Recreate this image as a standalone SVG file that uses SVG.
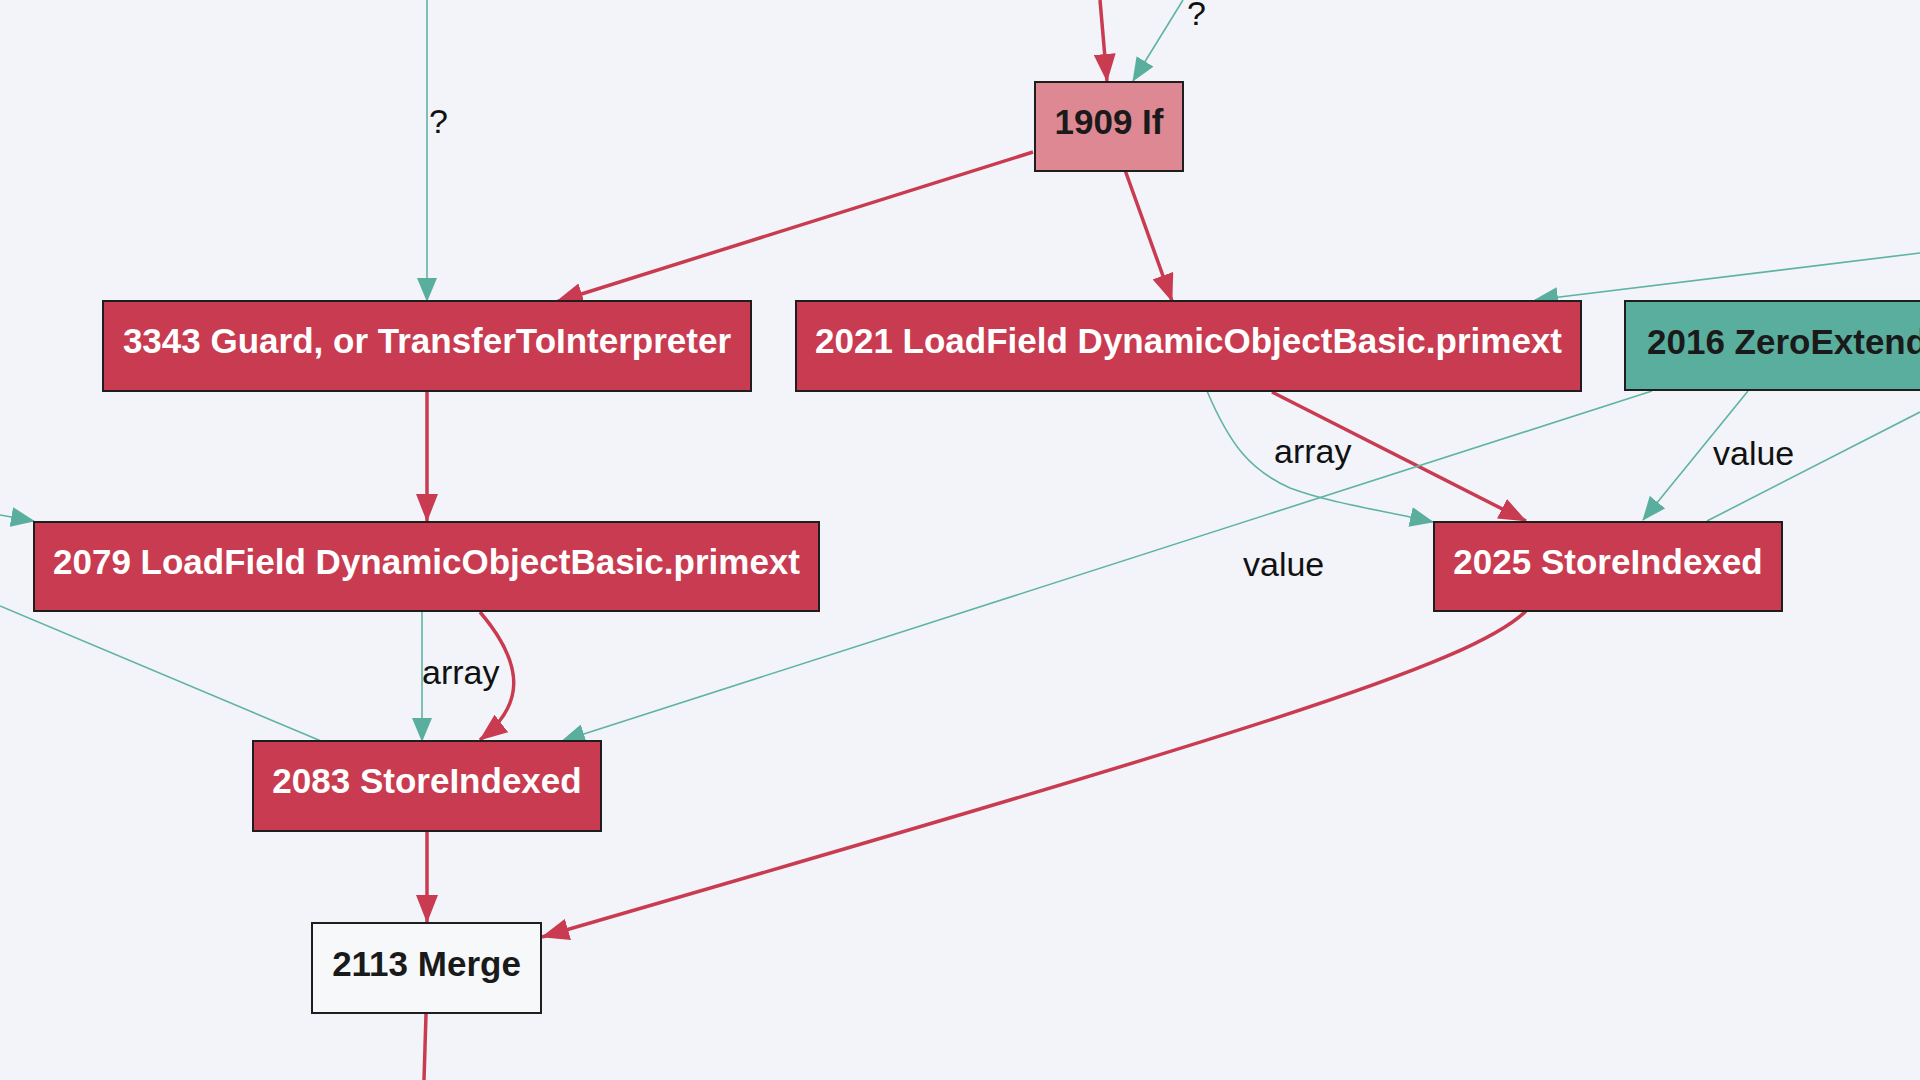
<svg xmlns="http://www.w3.org/2000/svg" width="1920" height="1080" viewBox="0 0 1920 1080">
  <style>
    .bg { fill: #f2f4f9; }
    .node rect { stroke: #1e1e1e; stroke-width: 2; }
    .ctl rect { fill: #c93b50; }
    .ctl text { fill: #ffffff; }
    .branch rect { fill: #dd8892; }
    .data rect { fill: #5aae9e; }
    .plain rect { fill: #f7f8fa; }
    .node text { font-family: "Liberation Sans", Arial, sans-serif; font-weight: bold; font-size: 35px; fill: #1a1a1a; }
    .ctl text { fill: #ffffff; }
    .e-ctl { fill: none; stroke: #c93b50; stroke-width: 3.5; }
    .e-dat { fill: none; stroke: #5fb3a3; stroke-width: 1.6; }
    .lbl { font-family: "Liberation Sans", Arial, sans-serif; font-size: 34px; fill: #111111; }
  </style>
  <defs>
    <marker id="arrow-ctl" viewBox="0 0 28 22" refX="27" refY="11" markerWidth="28" markerHeight="22" markerUnits="userSpaceOnUse" orient="auto">
      <path d="M0,0 L28,11 L0,22 z" fill="#c93b50"/>
    </marker>
    <marker id="arrow-dat" viewBox="0 0 24 20" refX="23" refY="10" markerWidth="24" markerHeight="20" markerUnits="userSpaceOnUse" orient="auto">
      <path d="M0,0 L24,10 L0,20 z" fill="#5aae9e"/>
    </marker>
  </defs>

  <rect class="bg" x="0" y="0" width="1920" height="1080"/>

  <!-- edges -->
  <g id="edges">
    <!-- control flow -->
    <path class="e-ctl" d="M1100,0 L1107,81" marker-end="url(#arrow-ctl)"/>
    <path class="e-ctl" d="M1033,152 L556,302" marker-end="url(#arrow-ctl)"/>
    <path class="e-ctl" d="M1125,170 L1172,301" marker-end="url(#arrow-ctl)"/>
    <path class="e-ctl" d="M427,392 L427,521" marker-end="url(#arrow-ctl)"/>
    <path class="e-ctl" d="M1272,392 L1526,521" marker-end="url(#arrow-ctl)"/>
    <path class="e-ctl" d="M480,612 C525,665 525,705 480,740" marker-end="url(#arrow-ctl)"/>
    <path class="e-ctl" d="M427,832 L427,922" marker-end="url(#arrow-ctl)"/>
    <path class="e-ctl" d="M1526,611 C1470,665 1242,734 542,937" marker-end="url(#arrow-ctl)"/>
    <path class="e-ctl" d="M426,1014 L424,1080"/>

    <!-- data flow -->
    <path class="e-dat" d="M1183,0 L1133,81" marker-end="url(#arrow-dat)"/>
    <path class="e-dat" d="M427,0 L427,301" marker-end="url(#arrow-dat)"/>
    <path class="e-dat" d="M1920,253 L1535,300" marker-end="url(#arrow-dat)"/>
    <path class="e-dat" d="M0,515 L34,521" marker-end="url(#arrow-dat)"/>
    <path class="e-dat" d="M1207,391 C1230,445 1250,470 1290,488 C1330,503 1380,510 1433,522" marker-end="url(#arrow-dat)"/>
    <path class="e-dat" d="M1748,391 L1643,520" marker-end="url(#arrow-dat)"/>
    <path class="e-dat" d="M1920,412 L1707,521"/>
    <path class="e-dat" d="M1652,391 L562,741" marker-end="url(#arrow-dat)"/>
    <path class="e-dat" d="M422,612 L422,741" marker-end="url(#arrow-dat)"/>
    <path class="e-dat" d="M0,606 L321,741"/>

    <!-- edge labels -->
    <text class="lbl" x="1187" y="25">?</text>
    <text class="lbl" x="429" y="133">?</text>
    <text class="lbl" x="1274" y="463">array</text>
    <text class="lbl" x="1713" y="465">value</text>
    <text class="lbl" x="1243" y="576">value</text>
    <text class="lbl" x="422" y="684">array</text>
  </g>

  <!-- nodes -->
  <g id="n1909" class="node branch">
    <rect x="1035" y="82" width="148" height="89"/>
    <text x="1109" y="134" text-anchor="middle">1909 If</text>
  </g>
  <g id="n3343" class="node ctl">
    <rect x="103" y="301" width="648" height="90"/>
    <text x="427" y="353" text-anchor="middle">3343 Guard, or TransferToInterpreter</text>
  </g>
  <g id="n2021" class="node ctl">
    <rect x="796" y="301" width="785" height="90"/>
    <text x="1188.5" y="353" text-anchor="middle">2021 LoadField DynamicObjectBasic.primext</text>
  </g>
  <g id="n2016" class="node data">
    <rect x="1625" y="301" width="400" height="89"/>
    <text x="1647" y="354">2016 ZeroExtend</text>
  </g>
  <g id="n2079" class="node ctl">
    <rect x="34" y="522" width="785" height="89"/>
    <text x="426.5" y="574" text-anchor="middle">2079 LoadField DynamicObjectBasic.primext</text>
  </g>
  <g id="n2025" class="node ctl">
    <rect x="1434" y="522" width="348" height="89"/>
    <text x="1608" y="574" text-anchor="middle">2025 StoreIndexed</text>
  </g>
  <g id="n2083" class="node ctl">
    <rect x="253" y="741" width="348" height="90"/>
    <text x="427" y="793" text-anchor="middle">2083 StoreIndexed</text>
  </g>
  <g id="n2113" class="node plain">
    <rect x="312" y="923" width="229" height="90"/>
    <text x="426.5" y="976" text-anchor="middle">2113 Merge</text>
  </g>
</svg>
